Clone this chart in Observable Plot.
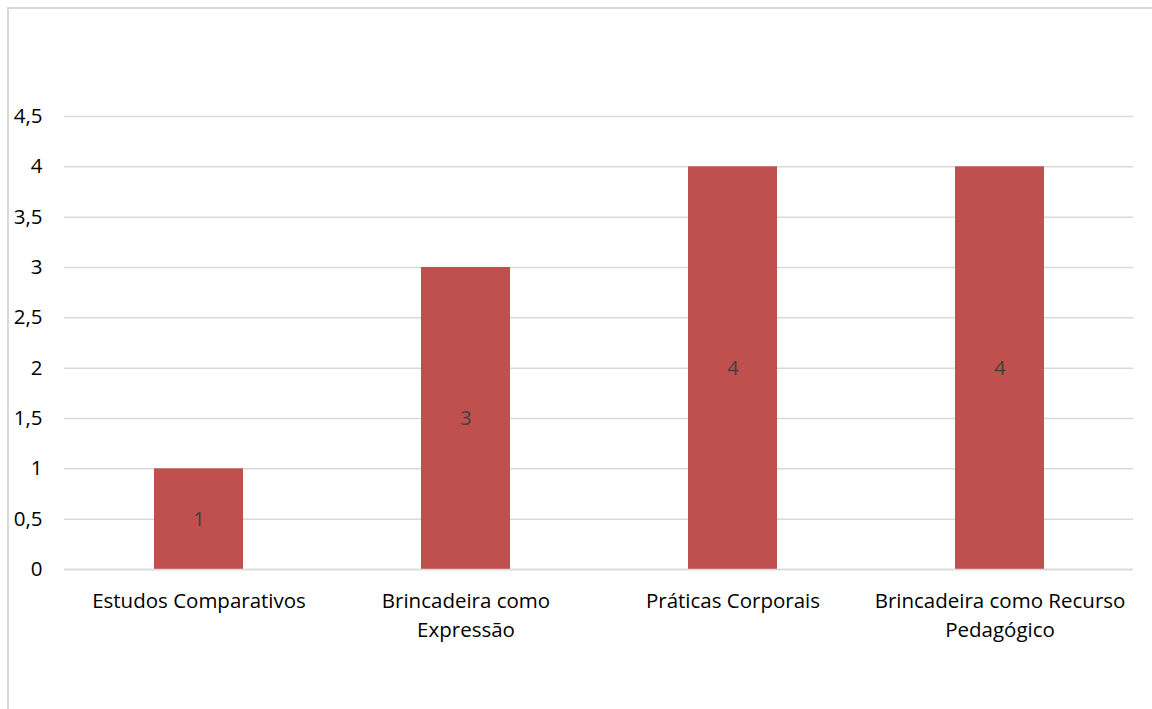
<!DOCTYPE html>
<html><head><meta charset="utf-8">
<script src="https://cdn.jsdelivr.net/npm/d3@7"></script>
<script src="https://cdn.jsdelivr.net/npm/@observablehq/plot@0.6"></script>
<style>
html,body{margin:0;padding:0;background:#fff;overflow:hidden;}
#frame{position:absolute;left:7px;top:7px;width:1200px;height:760px;border:2px solid #d9d9d9;box-sizing:border-box;}
#chart{position:absolute;left:0;top:0;}
</style></head>
<body>
<div id="frame"></div>
<div id="chart"></div>
<script>
const categories = ["Estudos Comparativos","Brincadeira como Expressão","Práticas Corporais","Brincadeira como Recurso Pedagógico"];
const tickLabels = ["Estudos Comparativos","Brincadeira como\nExpressão","Práticas Corporais","Brincadeira como Recurso\nPedagógico"];
const values = [1,3,4,4];
const yTicks = [0,0.5,1,1.5,2,2.5,3,3.5,4,4.5];

const data = categories.map((c,i)=>({cat:c, value:values[i]}));
const fmt = v => String(v).replace(".", ",");
const font = "Open Sans, Lato, sans-serif";

const chart = Plot.plot({
  width:1152, height:709,
  marginLeft:64, marginRight:19, marginTop:116, marginBottom:140,
  style:{fontFamily:font, background:"transparent"},
  x:{domain:categories, paddingInner:2/3, paddingOuter:1/3, label:null},
  y:{domain:[0,4.5], label:null},
  marks:[
    Plot.gridY(yTicks,{stroke:"#d9d9d9", strokeOpacity:1, strokeWidth:1.5}),
    Plot.axisY(yTicks,{tickSize:0, tickPadding:22, tickFormat:fmt, fontSize:20.5, fill:"#000", label:null}),
    Plot.axisX({tickSize:0, tickPadding:19, tickFormat:(d)=>tickLabels[categories.indexOf(d)], fontSize:20.5, fill:"#000", lineHeight:1.37, label:null}),
    Plot.barY(data,{x:"cat", y:"value", fill:"#C0504D"}),
    Plot.text(data,{x:"cat", y:d=>d.value/2, text:d=>fmt(d.value), fill:"#404040", fontSize:20}),
    Plot.ruleY([0],{stroke:"#d9d9d9", strokeWidth:1.5})
  ]
});
document.getElementById("chart").appendChild(chart);
</script>
</body></html>
